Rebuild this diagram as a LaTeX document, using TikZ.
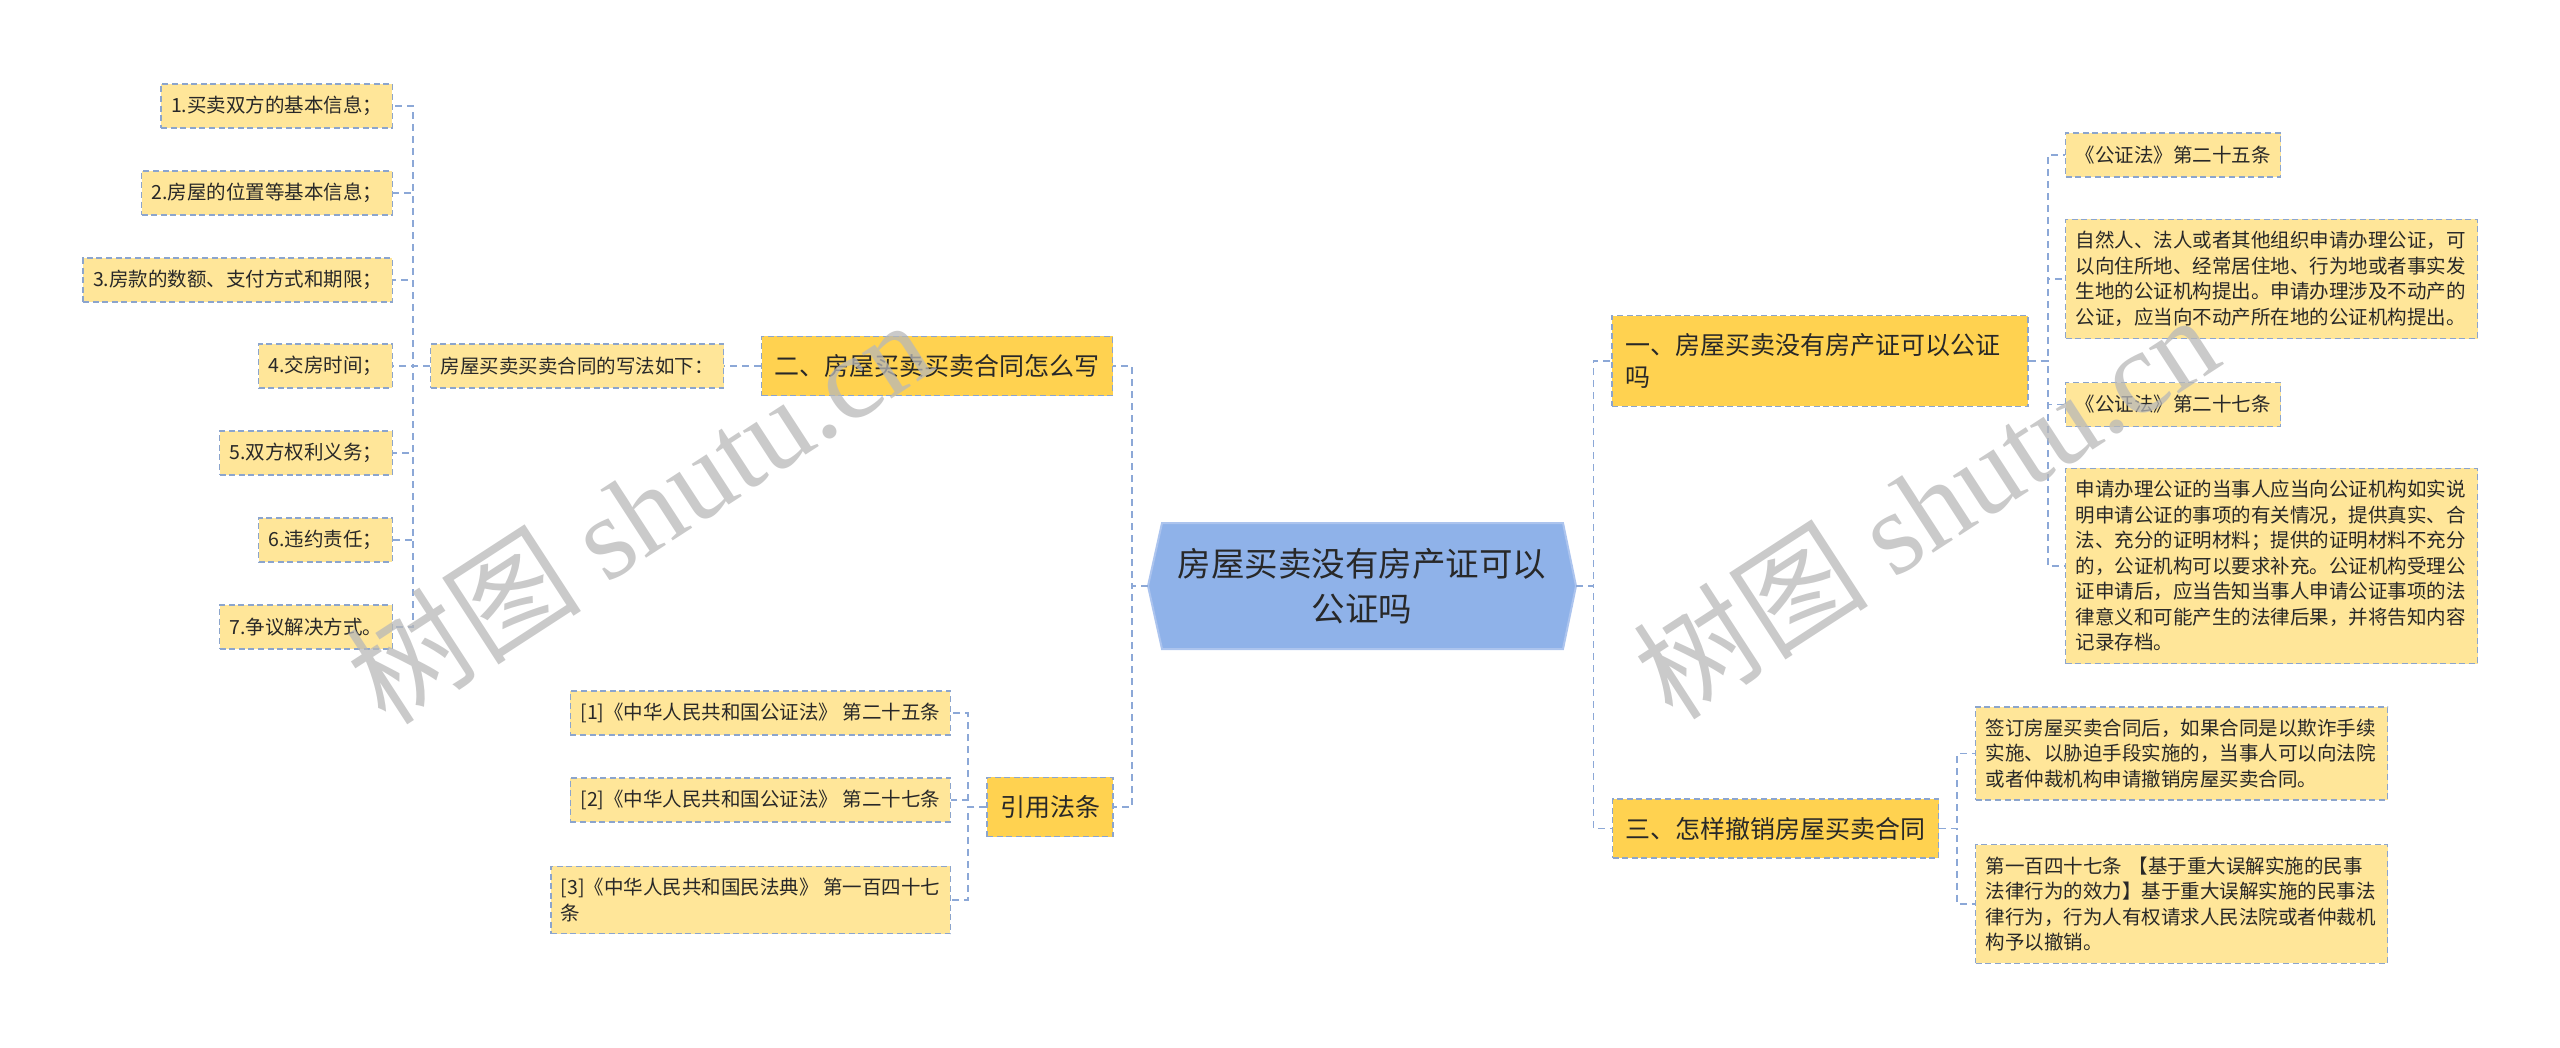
\documentclass[tikz,border=0pt]{standalone}
\usepackage{fontspec}
\setmainfont{Noto Sans CJK SC}
\newfontfamily\wmserif{Liberation Serif}
\usepackage{tikz}
\usetikzlibrary{positioning}
\definecolor{rootblue}{RGB}{143,178,233}
\definecolor{rootedge}{RGB}{172,196,238}
\definecolor{gold}{RGB}{255,210,80}
\definecolor{pale}{RGB}{255,230,153}
\definecolor{edgeblue}{RGB}{140,165,205}
\definecolor{linkblue}{RGB}{140,168,215}
\definecolor{ink}{RGB}{40,40,40}

\begin{document}
\begin{tikzpicture}[x=0.5pt,y=-0.5pt,
          topic/.style={draw=edgeblue,dash pattern=on 3pt off 1.8pt,line width=0.8pt,
                        fill=gold,text=ink,inner xsep=6.5pt,inner ysep=9pt,
                        minimum height=29.5pt,align=left,font=\fontsize{12.5}{16}\selectfont},
          leaf/.style={draw=edgeblue,dash pattern=on 3pt off 1.8pt,line width=0.7pt,
                       fill=pale,text=ink,inner xsep=5pt,inner ysep=6pt,
                       minimum height=22pt,align=left,font=\fontsize{9.75}{12.75}\selectfont},
          link/.style={draw=linkblue,line width=0.9pt,dash pattern=on 3.5pt off 2.5pt},
          wmark/.style={text=black!28,opacity=0.75,font=\fontsize{59}{63}\selectfont}]
        \useasboundingbox (0,0) rectangle (2560,1048);
        \fill[rootblue,draw=rootedge,line width=1pt]
          (1162,523)--(1563,523)--(1576,586)--(1563,649)--(1162,649)--(1148,586)--cycle;
        \node[minimum width=214pt,minimum height=63pt,align=center,text=ink,
              font=\fontsize{16.75}{22.5}\selectfont](root) at (1362,586){房屋买卖没有房产证可以\\公证吗};
        \node[topic](t2) at (937,366){二、房屋买卖买卖合同怎么写};
        \node[leaf](howto) at (577,366){房屋买卖买卖合同的写法如下：};
        \node[leaf,anchor=east](a1) at (393,106){1.买卖双方的基本信息；};
        \node[leaf,anchor=east](a2) at (393,193){2.房屋的位置等基本信息；};
        \node[leaf,anchor=east](a3) at (393,280){3.房款的数额、支付方式和期限；};
        \node[leaf,anchor=east](a4) at (393,366){4.交房时间；};
        \node[leaf,anchor=east](a5) at (393,453){5.双方权利义务；};
        \node[leaf,anchor=east](a6) at (393,540){6.违约责任；};
        \node[leaf,anchor=east](a7) at (393,627){7.争议解决方式。};
        \node[topic](cite) at (1050,807){引用法条};
        \node[leaf,anchor=east](c1) at (951,713){[1]《中华人民共和国公证法》 第二十五条};
        \node[leaf,anchor=east](c2) at (951,800){[2]《中华人民共和国公证法》 第二十七条};
        \node[leaf,anchor=east](c3) at (951,900){[3]《中华人民共和国民法典》 第一百四十七\\条};
        \node[topic,text width=195pt](t1) at (1820,361){一、房屋买卖没有房产证可以公证\\吗};
        \node[topic](t3) at (1775.5,828.5){三、怎样撤销房屋买卖合同};
        \node[leaf,anchor=west](r1) at (2065,155){《公证法》第二十五条};
        \node[leaf,anchor=west,text width=196pt](r2) at (2065,279){自然人、法人或者其他组织申请办理公证，可\\以向住所地、经常居住地、行为地或者事实发\\生地的公证机构提出。申请办理涉及不动产的\\公证，应当向不动产所在地的公证机构提出。};
        \node[leaf,anchor=west](r3) at (2065,404.5){《公证法》第二十七条};
        \node[leaf,anchor=west,text width=196pt](r4) at (2065,566){申请办理公证的当事人应当向公证机构如实说\\明申请公证的事项的有关情况，提供真实、合\\法、充分的证明材料；提供的证明材料不充分\\的，公证机构可以要求补充。公证机构受理公\\证申请后，应当告知当事人申请公证事项的法\\律意义和可能产生的法律后果，并将告知内容\\记录存档。};
        \node[leaf,anchor=west,text width=196pt](s1) at (1975,753.5){签订房屋买卖合同后，如果合同是以欺诈手续\\实施、以胁迫手段实施的，当事人可以向法院\\或者仲裁机构申请撤销房屋买卖合同。};
        \node[leaf,anchor=west,text width=196pt](s2) at (1975,904){第一百四十七条 【基于重大误解实施的民事\\法律行为的效力】基于重大误解实施的民事法\\律行为，行为人有权请求人民法院或者仲裁机\\构予以撤销。};
        \draw[link](root.west)--++(-16,0) |-(t2.east);
        \draw[link](root.west)--++(-16,0) |-(cite.east);
        \draw[link](t2.west)--(howto.east);
        \foreach \i in {1,...,7}
          \draw[link](howto.west)--++(-17,0) |-(a\i.east);
        \foreach \i in {1,2,3}
          \draw[link](cite.west)--++(-18,0) |-(c\i.east);
        \draw[link](root.east)--++(17,0) |-(t1.west);
        \draw[link](root.east)--++(17,0) |-(t3.west);
        \foreach \i in {1,...,4}
          \draw[link](t1.east)--++(19,0) |-(r\i.west);
        \foreach \i in {1,2}
          \draw[link](t3.east)--++(18,0) |-(s\i.west);
        \node[wmark,rotate=33](wm1) at (638,510){树图 {\wmserif shutu.cn}};
        \node[wmark,rotate=33](wm2) at (1925,505){树图 {\wmserif shutu.cn}};
      \end{tikzpicture}
\end{document}
